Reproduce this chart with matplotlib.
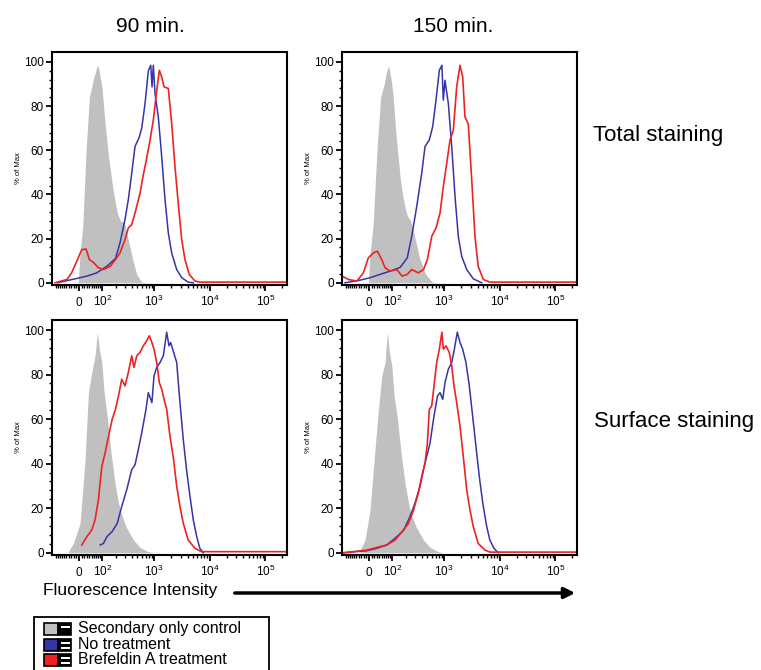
import numpy as np
import matplotlib.pyplot as plt
from matplotlib.patches import Rectangle

plt.rcParams['font.family'] = ['Liberation Sans', 'DejaVu Sans']
plt.rcParams['mathtext.fontset'] = 'custom'
plt.rcParams['mathtext.rm'] = 'Liberation Sans'
plt.rcParams['mathtext.it'] = 'Liberation Sans:italic'
plt.rcParams['mathtext.bf'] = 'Liberation Sans:bold'

col_titles = ["90 min.", "150 min."]
row_titles = ["Total staining", "Surface staining"]
legend_labels = ["Secondary only control", "No treatment", "Brefeldin A treatment"]

# ---- 90 min, total staining
tl_gray_x = [-3, 3.7, 13.8, 26.6, 39.6, 56.3, 74.8, 81.8, 97.8, 117, 139, 173, 209, 244, 282, 339, 409, 485, 597, 735]
tl_gray_y = [0, 13.5, 25.6, 60, 84, 92, 98.5, 97, 89, 72, 57, 42, 31.6, 27.8, 27.8, 19.5, 10.5, 3.8, 0.3, 0]
tl_blue_x = [-92, -7.4, 29.5, 72, 128, 193, 236, 294, 339, 392, 451, 540, 597, 685, 787, 870, 918, 968, 1038,
             1192, 1372, 1573, 1802, 2073, 2550, 3140, 4100, 5070]
tl_blue_y = [0, 2, 3, 4.5, 7.5, 11, 18, 28.6, 37.6, 49.6, 61.7, 66, 70, 81, 96, 98.5, 88.7, 98.5, 85.7,
             75, 57, 37.6, 22.6, 13.5, 6, 2.3, 0.3, 0]
tl_red_x = [-105, -47, -28, -6, 10, 26.6, 39.6, 56, 80, 107, 151, 193, 236, 294, 339, 392, 451, 557, 638, 735,
            845, 968, 1114, 1243, 1372, 1510, 1802, 2073, 2375, 2720, 3140, 3590, 4290, 5430, 6650, 240000]
tl_red_y = [0, 1.5, 4.5, 10.5, 15, 15.3, 10.5, 9.3, 6.8, 6, 7.5, 10.5, 13.5, 19.5, 24.8, 26.3, 31.6, 40.6, 48.9, 56.4,
            64.7, 73.7, 87, 96.2, 93.2, 88.7, 88, 72.2, 52.6, 36, 19.5, 10.5, 3.8, 0.8, 0.3, 0.3]

# ---- 150 min, total staining
tr_gray_x = [-3, 3.7, 15, 30, 45, 60, 72, 82, 94, 105, 117, 132, 150, 168, 190, 212, 240, 290, 360, 460, 610, 740]
tr_gray_y = [0, 13, 26, 60, 84, 90, 96, 98, 92, 85, 72, 60, 48, 40, 34, 30, 28.5, 21, 11, 4, 0.3, 0]
tr_blue_x = [-105, -34, 3.7, 42.5, 89, 151, 209, 255, 317, 392, 451, 540, 622, 714, 820, 913, 968, 1038, 1192,
             1372, 1573, 1802, 2073, 2550, 3350, 4740]
tr_blue_y = [0, 1.2, 2.3, 3.8, 5.3, 7, 11.3, 21, 34.6, 49.6, 61.7, 64.7, 70.7, 82.7, 96.2, 98.5, 82.7, 91.7, 81.2,
             61.7, 39, 21, 12, 6, 1.8, 0]
tr_red_x = [-114, -87, -47, -21.5, -2.6, 16, 31.8, 49.5, 63.9, 89, 128, 165, 209, 255, 339, 423, 498, 597, 714,
            845, 968, 1114, 1280, 1465, 1686, 1932, 2160, 2375, 2720, 3140, 3590, 4100, 5070, 6650, 240000]
tr_red_y = [2.7, 1.5, 0.8, 4.5, 11.3, 13.5, 14.3, 10.5, 6.8, 5.3, 6, 3, 3.8, 6, 4.5, 6, 10.5, 21, 24.8,
            31.6, 43.6, 54, 64.7, 69, 88.7, 98.5, 93.2, 75, 72, 46.6, 21, 7.5, 1.5, 0.3, 0.3]

# ---- 90 min, surface staining
bl_gray_x = [-41, -21.5, 3.7, 22.6, 35.7, 49.5, 63.9, 74.8, 85, 97.8, 111, 132, 157, 193, 236, 307, 423, 557, 787, 968]
bl_gray_y = [0.5, 4.2, 13.2, 41.8, 72, 81, 88.4, 99, 91.4, 85.4, 72, 60, 44.8, 29.8, 19.2, 11.7, 5.7, 2.4, 0.5, 0]
bl_blue_x = [89, 107, 128, 165, 209, 255, 317, 392, 451, 518, 597, 714, 787, 913, 996, 1114, 1280, 1465, 1686,
             1854, 1985, 2245, 2550, 2920, 3350, 3830, 4420, 5070, 5840, 6650, 7650]
bl_blue_y = [3.5, 4.2, 7.2, 9.5, 13.2, 20.8, 28.3, 37.3, 39.5, 46.3, 53.8, 64.4, 71.9, 67.4, 79.4, 83.2, 85.4, 88.4, 99,
             92.9, 94.4, 90, 85.4, 67.4, 50.8, 37.3, 25.3, 14.7, 7.2, 2, 0]
bl_red_x = [10, 29.5, 49.5, 63.9, 80, 97.8, 117, 139, 165, 193, 221, 255, 294, 339, 392, 432, 485, 557, 638, 735,
            820, 913, 996, 1114, 1243, 1372, 1510, 1686, 1932, 2245, 2550, 2920, 3350, 4100, 5430, 7100, 240000]
bl_red_y = [3.5, 7.2, 10.2, 14.7, 23.8, 38.8, 44.8, 52.3, 59.8, 64.4, 70.4, 77.9, 74.9, 80.9, 88.4, 83.2, 88.4, 90, 92.9, 95.2,
            97.4, 94.4, 91.4, 85.4, 76.4, 73.4, 68.9, 64.4, 52.3, 41.8, 29.8, 20.8, 13.2, 5.7, 2, 0.5, 0.5]

# ---- 150 min, surface staining
br_gray_x = [-34, -15, 3.7, 22.6, 35.7, 49.5, 63.9, 74.8, 85, 97.8, 111, 132, 157, 193, 236, 307, 423, 557, 787, 968]
br_gray_y = [1.2, 5.7, 19.2, 46.6, 64.4, 79.4, 85.4, 99, 89.9, 83.9, 70.4, 60, 44.8, 29.8, 19.2, 11.7, 5.7, 2.4, 0.5, 0]
br_blue_x = [-114, -8.6, 29.5, 72, 128, 178, 236, 294, 365, 423, 485, 557, 657, 760, 845, 945, 1038, 1192, 1372,
             1530, 1727, 1932, 2160, 2475, 2840, 3260, 3740, 4290, 4960, 5840, 6650, 7875, 9420]
br_blue_y = [0, 0.9, 2, 3.5, 7.2, 10.2, 16.2, 22.3, 29.8, 37.3, 43.3, 49.3, 61.4, 70.4, 71.9, 68.9, 76.4, 82.4, 85.4,
             91.4, 99, 94.4, 91.4, 85.4, 74.9, 61.4, 47.8, 34.3, 22.3, 11.7, 5.7, 2, 0]
br_red_x = [-114, -8.6, 29.5, 72, 117, 165, 221, 276, 339, 392, 451, 498, 540, 597, 657, 735, 820, 913, 968, 1083,
            1243, 1372, 1510, 1686, 1932, 2245, 2550, 2920, 3350, 4100, 5430, 6650, 240000]
br_red_y = [0, 1.2, 2.4, 3.5, 5.7, 9.5, 13.2, 19.2, 26.8, 34.3, 40.3, 49.3, 64.4, 65.9, 74.9, 85.4, 91.4, 99, 91.4, 92.9,
            89.9, 83.9, 74.9, 67.4, 56.8, 41.8, 28.3, 19.2, 11.7, 4.2, 1.2, 0.3, 0.3]

panels = [
    (tl_gray_x, tl_gray_y, tl_blue_x, tl_blue_y, tl_red_x, tl_red_y),
    (tr_gray_x, tr_gray_y, tr_blue_x, tr_blue_y, tr_red_x, tr_red_y),
    (bl_gray_x, bl_gray_y, bl_blue_x, bl_blue_y, bl_red_x, bl_red_y),
    (br_gray_x, br_gray_y, br_blue_x, br_blue_y, br_red_x, br_red_y),
]

GRAY = '#c0c0c0'
BLUE = '#3535a8'
RED = '#ee2222'

W, H = 761, 670
fig = plt.figure(figsize=(W / 100, H / 100), dpi=100)


def box(l, t, r, b):
    return [l / W, 1 - b / H, (r - l) / W, (b - t) / H]


# biexponential-like display (arcsinh)
C = 90.0
def fwd(x):
    return np.arcsinh(np.asarray(x) / C)
def inv(u):
    return C * np.sinh(np.asarray(u))


major_x = [0, 1e2, 1e3, 1e4, 1e5]
major_lab = ['0', '$10^2$', '$10^3$', '$10^4$', '$10^5$']
minor_x = [v for v in range(-100, 100, 10) if v != 0]
for k in range(2, 6):
    for m in range(2, 10):
        if m * 10 ** k < 2.4e5:
            minor_x.append(m * 10 ** k)

rects = [box(52, 52, 287, 285), box(342, 52, 577, 285),
         box(52, 320, 287, 555), box(342, 320, 577, 555)]

for i, (gx, gy, bx, by, rx, ry) in enumerate(panels):
    ax = fig.add_axes(rects[i])
    ax.set_xscale('function', functions=(fwd, inv))
    ax.fill_between(gx, gy, 0, color=GRAY, lw=0)
    ax.plot(bx, by, color=BLUE, lw=1.1)
    ax.plot(rx, ry, color=RED, lw=1.2)
    ax.set_xlim(-123, 2.44e5)
    ax.set_ylim(-1, 104.5)
    ax.set_xticks(major_x)
    ax.set_xticklabels(major_lab)
    ax.set_xticks(minor_x, minor=True)
    ax.set_yticks([0, 20, 40, 60, 80, 100])
    ax.set_yticks(np.arange(0, 101, 4), minor=True)
    ax.tick_params(which='major', direction='out', length=4, width=1.3, labelsize=8.5, pad=2)
    ax.tick_params(which='minor', direction='out', length=2.5, width=1.0)
    ax.tick_params(axis='x', which='major', pad=11)
    for t in ax.get_xticklabels():
        t.set_verticalalignment('baseline')
    for s in ax.spines.values():
        s.set_linewidth(1.5)
    ax.set_ylabel('% of Max', fontsize=5.5, labelpad=1)

fig.text(150 / W, 1 - 26 / H, col_titles[0], fontsize=15, ha='center', va='center')
fig.text(453 / W, 1 - 26 / H, col_titles[1], fontsize=15, ha='center', va='center')
fig.text(593 / W, 1 - 136 / H, row_titles[0], fontsize=16, ha='left', va='center')
fig.text(594 / W, 1 - 422 / H, row_titles[1], fontsize=16, ha='left', va='center')

fig.text(43 / W, 1 - 590 / H, 'Fluorescence Intensity', fontsize=12.5, ha='left', va='center')
ax.annotate('', xy=(578 / W, 1 - 593 / H), xytext=(232 / W, 1 - 593 / H),
            xycoords='figure fraction', textcoords='figure fraction', annotation_clip=False,
            arrowprops=dict(arrowstyle='-|>', lw=2.5, color='black', mutation_scale=16))

# legend
fig.add_artist(Rectangle((34 / W, 1 - 673 / H), 235 / W, 56 / H, transform=fig.transFigure,
                         fill=False, ec='black', lw=1.3, clip_on=False))
icon_cols = [GRAY, BLUE, RED]
for i, lab in enumerate(legend_labels):
    cy = 629 + i * 15.5
    fig.add_artist(Rectangle((44 / W, 1 - (cy + 6) / H), 14 / W, 12 / H, transform=fig.transFigure,
                             fc=icon_cols[i], ec='black', lw=1.2))
    fig.add_artist(Rectangle((58 / W, 1 - (cy + 6) / H), 13 / W, 12 / H, transform=fig.transFigure,
                             fc='black', ec='black', lw=1.2))
    fig.add_artist(Rectangle((61 / W, 1 - (cy - 1) / H), 9 / W, 2 / H, transform=fig.transFigure,
                             fc='white', lw=0))
    if i > 0:
        fig.add_artist(Rectangle((61 / W, 1 - (cy + 4) / H), 9 / W, 2 / H, transform=fig.transFigure,
                                 fc='white', lw=0))
    fig.text(78 / W, 1 - cy / H, lab, fontsize=11.5, ha='left', va='center')

fig.savefig('out.png', dpi=100)
